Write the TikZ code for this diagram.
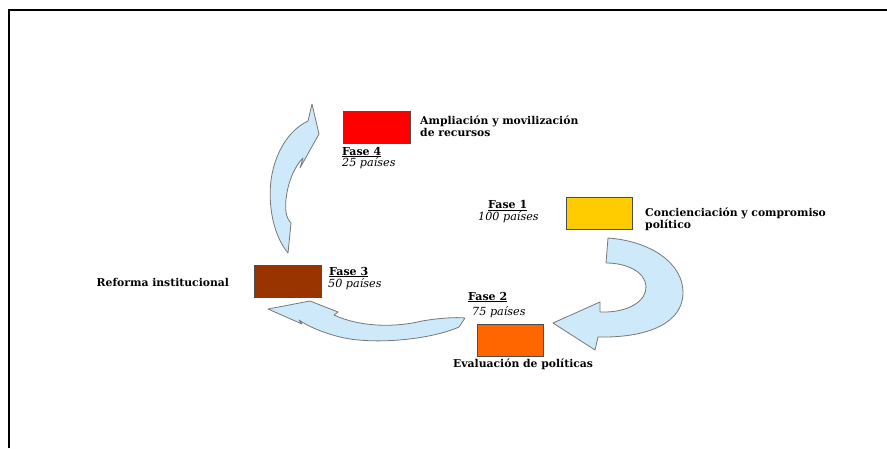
\documentclass[tikz,border=0pt]{standalone}
\usepackage{fontspec}
\setmainfont{DejaVu Serif}
\definecolor{arrowfill}{RGB}{206,233,249}
\definecolor{arrowline}{RGB}{120,120,120}
\definecolor{phred}{RGB}{255,0,0}
\definecolor{phyellow}{RGB}{255,204,0}
\definecolor{phbrown}{RGB}{153,51,0}
\definecolor{phorange}{RGB}{255,102,0}
\begin{document}
\begin{tikzpicture}[x=1pt,y=-1pt,
  phasebox/.style={draw=black!70, line width=0.6pt, minimum width=67pt, minimum height=32pt, inner sep=0pt},
  lbl/.style={font=\fontsize{10.8}{11.8}\selectfont\bfseries, inner sep=0pt, align=left},
  fase/.style={font=\fontsize{11}{12}\selectfont\bfseries, inner sep=0pt},
  cnt/.style={font=\fontsize{11.2}{12}\selectfont\itshape, inner sep=0pt},
  blockarrow/.style={fill=arrowfill, draw=arrowline, line width=0.8pt, line join=round}]
\useasboundingbox (0,0) rectangle (887,448);
\fill[white] (0,0) rectangle (887,448);
% frame (top and left edges)
\draw[line width=2pt] (9,448) -- (9,10) -- (887,10);

% block arrows
\path[blockarrow] (608,238) .. controls (650,241) and (684,263) .. (683,294)
  .. controls (682,322) and (650,338) .. (598,337) -- (595,350) -- (553,323) -- (600,302) -- (600,312)
  .. controls (630,313) and (647,300) .. (646,286) .. controls (645,272) and (627,263) .. (606,263) -- cycle;
\path[blockarrow] (268,309) -- (310,301) -- (338,312) -- (334,315)
  .. controls (362,328) and (398,327) .. (422,321)
  .. controls (440,318) and (455,317) .. (465,318) -- (459,327)
  .. controls (430,340) and (372,345) .. (340,337) .. controls (320,332) and (306,325) .. (299,320)
  -- (302,324) -- cycle;
\path[blockarrow] (288,253) .. controls (273,235) and (268,205) .. (271,180)
  .. controls (275,152) and (289,130) .. (308,121) -- (312,104) -- (319,134) -- (300,168) -- (303,158)
  .. controls (291,170) and (284,195) .. (286,212) .. controls (287,218) and (289,221) .. (291,223) -- cycle;

% phase boxes
\node[phasebox, fill=phred] (b4) at (376.5,127) {};
\node[phasebox, fill=phyellow, minimum width=66pt] (b1) at (599,213) {};
\node[phasebox, fill=phbrown] (b3) at (287.5,281) {};
\node[phasebox, fill=phorange, minimum width=66pt] (b2) at (510,340) {};

% labels
\node[lbl, anchor=west] (t4) at (420,126) {Ampliación y movilización\\de recursos};
\node[fase, anchor=base west] (f4) at (342,155) {\underline{Fase 4}};
\node[cnt, anchor=base west] (c4) at (342,166.5) {25 países};

\node[fase, anchor=base west] (f1) at (488,208.5) {\underline{Fase 1}};
\node[cnt, anchor=base west] (c1) at (478,220) {100 países};
\node[lbl, anchor=west] (t1) at (645,219.5) {Concienciación y compromiso\\político};

\node[lbl, anchor=base west] (t3) at (96.5,286) {Reforma institucional};
\node[fase, anchor=base west] (f3) at (329,275) {\underline{Fase 3}};
\node[cnt, anchor=base west] (c3) at (328,287) {50 países};

\node[fase, anchor=base west] (f2) at (468,300) {\underline{Fase 2}};
\node[cnt, anchor=base west] (c2) at (472,315) {75 países};
\node[lbl, anchor=base west] (t2) at (453,367) {Evaluación de políticas};
\end{tikzpicture}
\end{document}
